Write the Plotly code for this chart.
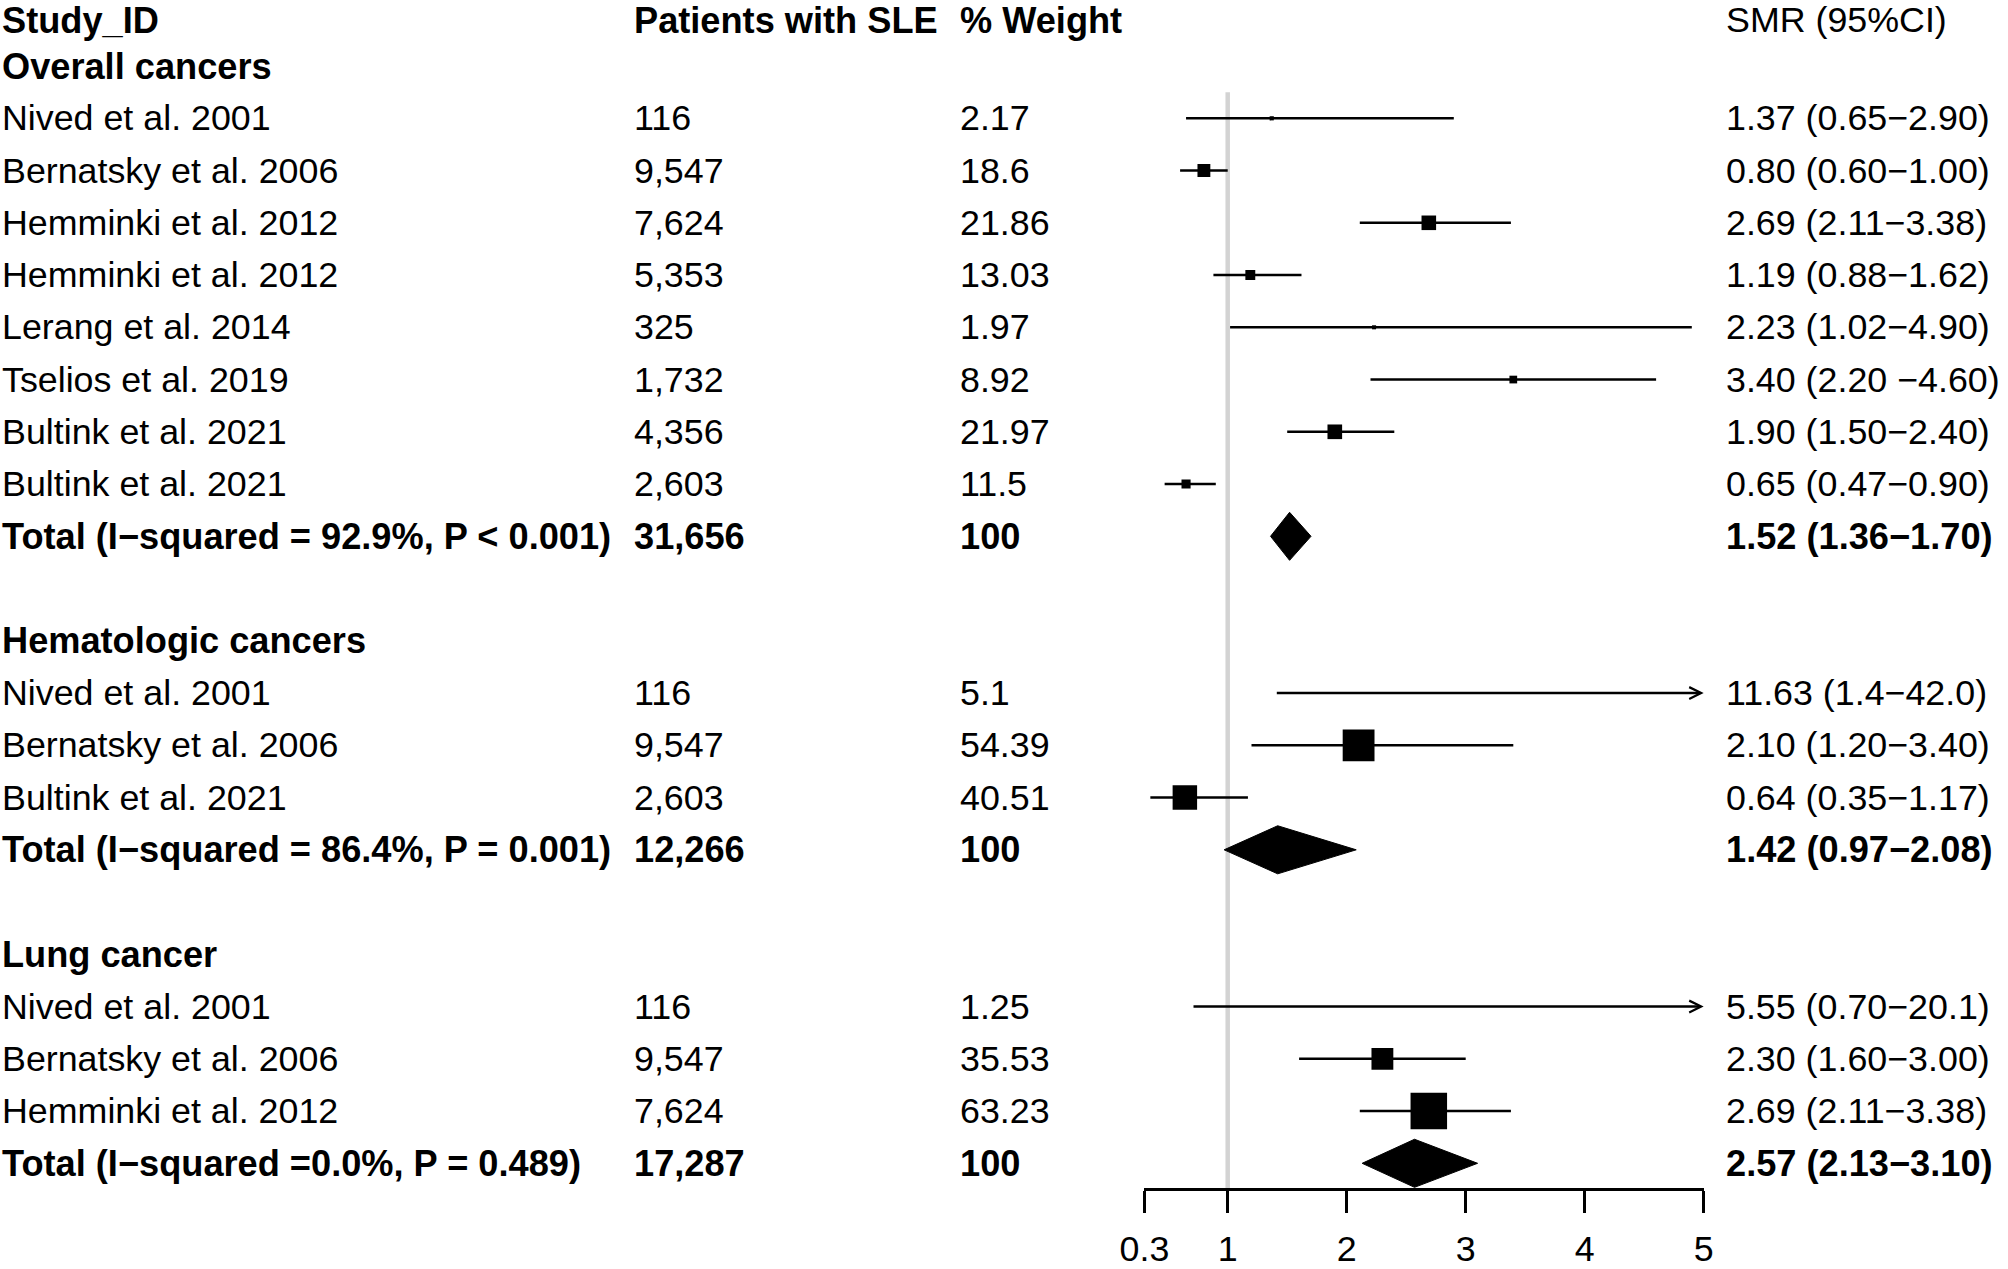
import plotly.graph_objects as go

FONT = "Liberation Sans"

# ---- data ----
header = ["Study_ID", "Patients with SLE", "% Weight", "SMR (95%CI)"]

overall_study = ["Nived et al. 2001", "Bernatsky et al. 2006", "Hemminki et al. 2012", "Hemminki et al. 2012",
                 "Lerang et al. 2014", "Tselios et al. 2019", "Bultink et al. 2021", "Bultink et al. 2021"]
overall_n = ["116", "9,547", "7,624", "5,353", "325", "1,732", "4,356", "2,603"]
overall_weight = [2.17, 18.6, 21.86, 13.03, 1.97, 8.92, 21.97, 11.5]
overall_smr = [1.37, 0.80, 2.69, 1.19, 2.23, 3.40, 1.90, 0.65]
overall_lo = [0.65, 0.60, 2.11, 0.88, 1.02, 2.20, 1.50, 0.47]
overall_hi = [2.90, 1.00, 3.38, 1.62, 4.90, 4.60, 2.40, 0.90]
overall_text = ["1.37 (0.65\u22122.90)", "0.80 (0.60\u22121.00)", "2.69 (2.11\u22123.38)", "1.19 (0.88\u22121.62)",
                "2.23 (1.02\u22124.90)", "3.40 (2.20 \u22124.60)", "1.90 (1.50\u22122.40)", "0.65 (0.47\u22120.90)"]
overall_total = ["Total (I\u2212squared = 92.9%, P < 0.001)", "31,656", "100", "1.52 (1.36\u22121.70)"]
overall_total_ci = [1.52, 1.36, 1.70]

heme_study = ["Nived et al. 2001", "Bernatsky et al. 2006", "Bultink et al. 2021"]
heme_n = ["116", "9,547", "2,603"]
heme_weight = [5.1, 54.39, 40.51]
heme_smr = [11.63, 2.10, 0.64]
heme_lo = [1.4, 1.20, 0.35]
heme_hi = [42.0, 3.40, 1.17]
heme_text = ["11.63 (1.4\u221242.0)", "2.10 (1.20\u22123.40)", "0.64 (0.35\u22121.17)"]
heme_total = ["Total (I\u2212squared = 86.4%, P = 0.001)", "12,266", "100", "1.42 (0.97\u22122.08)"]
heme_total_ci = [1.42, 0.97, 2.08]

lung_study = ["Nived et al. 2001", "Bernatsky et al. 2006", "Hemminki et al. 2012"]
lung_n = ["116", "9,547", "7,624"]
lung_weight = [1.25, 35.53, 63.23]
lung_smr = [5.55, 2.30, 2.69]
lung_lo = [0.70, 1.60, 2.11]
lung_hi = [20.1, 3.00, 3.38]
lung_text = ["5.55 (0.70\u221220.1)", "2.30 (1.60\u22123.00)", "2.69 (2.11\u22123.38)"]
lung_total = ["Total (I\u2212squared =0.0%, P = 0.489)", "17,287", "100", "2.57 (2.13\u22123.10)"]
lung_total_ci = [2.57, 2.13, 3.10]

tick_vals = [0.3, 1, 2, 3, 4, 5]
tick_text = ["0.3", "1", "2", "3", "4", "5"]

groups = [
    ("Overall cancers", overall_study, overall_n, overall_weight, overall_smr, overall_lo, overall_hi,
     overall_text, overall_total, overall_total_ci),
    ("Hematologic cancers", heme_study, heme_n, heme_weight, heme_smr, heme_lo, heme_hi,
     heme_text, heme_total, heme_total_ci),
    ("Lung cancer", lung_study, lung_n, lung_weight, lung_smr, lung_lo, lung_hi,
     lung_text, lung_total, lung_total_ci),
]

# ---- layout constants (pixels) ----
W, H = 2008, 1269
ROW0, ROW_H, AXIS_Y = 13.8, 52.25, 1188.3
X_LEFT, X_RIGHT = 1144.4, 1703.7
XMIN, XMAX = 0.3, 5
COLS = [0, 632, 958, 1724]
FS, FS_BOLD = 35.8, 36.2
DIAMOND_H = 0.46
HEADER_ROW = 0.12

y_top = -ROW0 / ROW_H
y_bottom = (AXIS_Y - ROW0) / ROW_H

fig = go.Figure()
texts = []   # (col, row, text, bold)
for c, h in enumerate(header):
    texts.append((c, HEADER_ROW, h, c < 3))

ci_x, ci_y = [], []
pt_x, pt_y, pt_s = [], [], []
arrows = []
diamonds = []

row = 1
for title, study, n, wt, smr, lo, hi, lab, tot, tot_ci in groups:
    texts.append((0, row, title, True))
    row += 1
    for i in range(len(study)):
        texts.append((0, row, study[i], False))
        texts.append((1, row, n[i], False))
        texts.append((2, row, str(wt[i]), False))
        texts.append((3, row, lab[i], False))
        if hi[i] > XMAX:
            arrows.append((lo[i], row))
        else:
            ci_x += [lo[i], hi[i], None]
            ci_y += [row, row, None]
        if smr[i] <= XMAX:
            pt_x.append(smr[i])
            pt_y.append(row)
            pt_s.append(3 + 0.53 * wt[i])
        row += 1
    for c in range(4):
        texts.append((c, row, tot[c], True))
    diamonds.append((tot_ci, row))
    row += 2

fig.add_trace(go.Scatter(x=ci_x, y=ci_y, mode="lines", line=dict(color="black", width=2.6),
                         hoverinfo="skip", showlegend=False))
fig.add_trace(go.Scatter(x=pt_x, y=pt_y, mode="markers",
                         marker=dict(symbol="square", size=pt_s, color="black", opacity=1,
                                     line=dict(width=0)),
                         showlegend=False))
for (est, lo, hi), r in diamonds:
    fig.add_trace(go.Scatter(x=[lo, est, hi, est, lo], y=[r, r - DIAMOND_H, r, r + DIAMOND_H, r],
                             mode="lines", fill="toself", fillcolor="black",
                             line=dict(color="black", width=1), showlegend=False))

for lo, r in arrows:
    fig.add_annotation(x=XMAX, y=r, ax=lo, ay=r, xref="x", yref="y", axref="x", ayref="y",
                       text="", showarrow=True, arrowhead=5, arrowsize=0.9, arrowwidth=2.6,
                       arrowcolor="black", standoff=0)

for c, r, t, bold in texts:
    fig.add_annotation(x=COLS[c] / W, y=r, xref="paper", yref="y", xanchor="left", yanchor="middle",
                       text="<b>%s</b>" % t if bold else t, showarrow=False,
                       font=dict(family=FONT, size=FS_BOLD if bold else FS, color="black"))

fig.add_shape(type="line", x0=1, x1=1, y0=1.5, y1=y_bottom, xref="x", yref="y",
              line=dict(color="#d3d3d3", width=4.5), layer="below")

fig.update_layout(
    template="none",
    width=W, height=H,
    margin=dict(l=0, r=0, t=0, b=0, autoexpand=False),
    paper_bgcolor="white", plot_bgcolor="white",
    showlegend=False,
    xaxis=dict(domain=[X_LEFT / W, X_RIGHT / W], range=[XMIN, XMAX], showgrid=False, zeroline=False,
               automargin=False,
               tickmode="array", tickvals=tick_vals, ticktext=tick_text,
               ticks="outside", ticklen=22, tickwidth=2.5, tickcolor="black",
               showline=True, linecolor="black", linewidth=2.5, ticklabelstandoff=5,
               tickfont=dict(family=FONT, size=FS, color="black")),
    yaxis=dict(domain=[1 - AXIS_Y / H, 1], range=[y_bottom, y_top], visible=False, automargin=False),
)

fig.write_html("out.html", config={"displayModeBar": False},
               post_script="document.body.style.margin='0';document.body.style.overflow='hidden';")
